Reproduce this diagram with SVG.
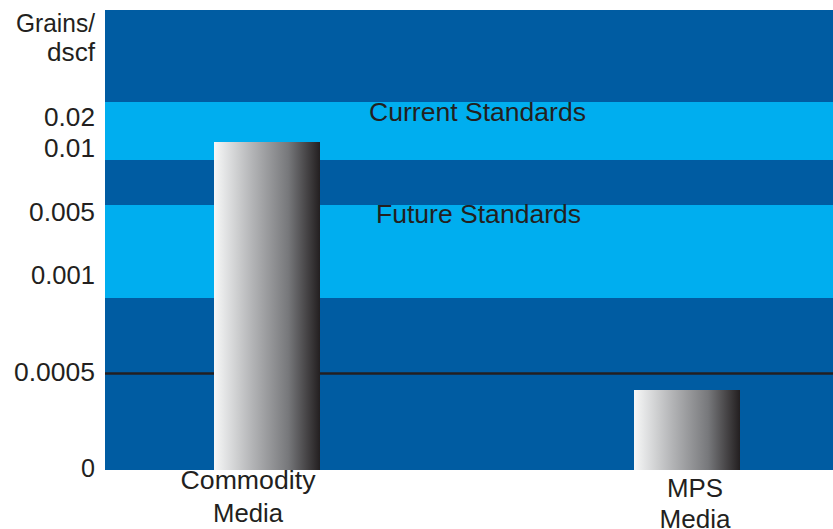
<svg xmlns="http://www.w3.org/2000/svg" width="833" height="529" viewBox="0 0 833 529">
<style>
text{font-family:"Liberation Sans",Arial,sans-serif;font-size:26px;fill:#231f20}
.e{text-anchor:end}
.m{text-anchor:middle}
</style>
<defs>
<linearGradient id="g" x1="0" y1="0" x2="1" y2="0">
<stop offset="0" stop-color="#f7f8f8"/>
<stop offset="0.35" stop-color="#b5b6b8"/>
<stop offset="0.7" stop-color="#77787b"/>
<stop offset="1" stop-color="#231f20"/>
</linearGradient>
</defs>
<rect width="833" height="529" fill="#fff"/>
<g id="plot">
<rect x="105" y="10" width="728" height="460" fill="#005ca2"/>
<rect x="105" y="102" width="728" height="58" fill="#00aeef"/>
<rect x="105" y="205" width="728" height="93" fill="#00aeef"/>
<text x="369" y="121" textLength="217" lengthAdjust="spacingAndGlyphs">Current Standards</text>
<text x="376" y="223" textLength="205" lengthAdjust="spacingAndGlyphs">Future Standards</text>
</g>
<g id="connectors">
<line x1="105" y1="373.5" x2="833" y2="373.5" stroke="#231f20" stroke-width="2.5"/>
</g>
<g id="bar-commodity">
<rect x="214" y="142" width="106" height="328" fill="url(#g)"/>
<text x="248" y="489" class="m" textLength="135" lengthAdjust="spacingAndGlyphs">Commodity</text>
<text x="248" y="522" class="m" textLength="70" lengthAdjust="spacingAndGlyphs">Media</text>
</g>
<g id="bar-mps">
<rect x="634" y="390" width="106" height="80" fill="url(#g)"/>
<text x="695" y="497" class="m" textLength="56" lengthAdjust="spacingAndGlyphs">MPS</text>
<text x="695" y="528" class="m" textLength="71" lengthAdjust="spacingAndGlyphs">Media</text>
</g>
<g id="axis">
<text x="95" y="32" class="e" textLength="79" lengthAdjust="spacingAndGlyphs">Grains/</text>
<text x="95" y="61" class="e" textLength="48" lengthAdjust="spacingAndGlyphs">dscf</text>
<text x="95" y="126" class="e" textLength="51" lengthAdjust="spacingAndGlyphs">0.02</text>
<text x="95" y="157" class="e" textLength="51" lengthAdjust="spacingAndGlyphs">0.01</text>
<text x="95" y="221" class="e" textLength="66" lengthAdjust="spacingAndGlyphs">0.005</text>
<text x="95" y="284" class="e" textLength="64" lengthAdjust="spacingAndGlyphs">0.001</text>
<text x="95" y="381" class="e" textLength="81" lengthAdjust="spacingAndGlyphs">0.0005</text>
<text x="95" y="477" class="e" textLength="14" lengthAdjust="spacingAndGlyphs">0</text>
</g>
</svg>
